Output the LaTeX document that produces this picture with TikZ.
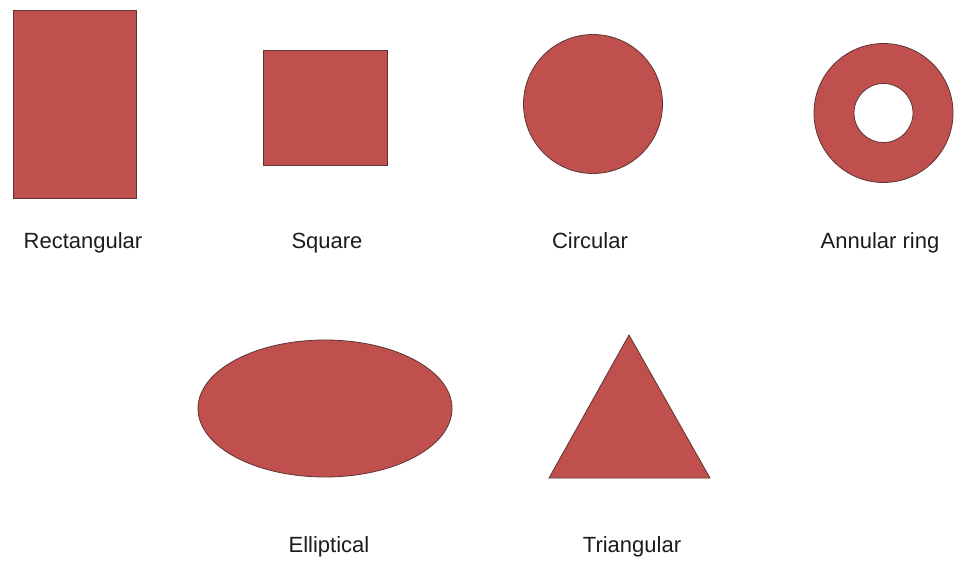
\documentclass[tikz,border=0pt]{standalone}
\usepackage{fontspec}
\setmainfont{Liberation Sans}
\usepackage{tikz}
\usepackage{xcolor}
\usetikzlibrary{positioning,shapes.geometric}
\definecolor{patchred}{RGB}{192,80,77}
\definecolor{patchedge}{RGB}{95,52,52}
\definecolor{labelgray}{RGB}{28,28,28}

\begin{document}
\begin{tikzpicture}[
      x=1pt,y=-1pt,
      patch/.style={draw=patchedge,fill=patchred,line width=0.8pt,inner sep=0pt,outer sep=0pt},
      hole/.style={draw=patchedge,fill=white,line width=0.8pt,circle,inner sep=0pt,minimum size=59pt},
      caption/.style={anchor=base,text=labelgray,inner sep=0pt,font=\fontsize{22}{26}\selectfont}
    ]
    \path[use as bounding box,fill=white] (0,0) rectangle (955,561);
    % top row
    \node[patch,rectangle,minimum width=123pt,minimum height=188pt] (rect) at (74.5,104) {};
    \node[patch,rectangle,minimum width=124pt,minimum height=115pt] (sq) at (325,107.5) {};
    \node[patch,circle,minimum size=139pt] (circ) at (593,104) {};
    \node[patch,circle,minimum size=139pt] (ring) at (883.5,113) {};
    \node[hole] (ringhole) at (ring.center) {};
    % bottom row
    \node[patch,ellipse,minimum width=254pt,minimum height=137pt] (ell) at (325,408.5) {};
    \coordinate (tritop) at (629,335);
    \coordinate (trileft) at (549,478);
    \coordinate (triright) at (710,478);
    \draw[patch] (trileft) -- (tritop) -- (triright) -- cycle;
    % captions
    \node[caption] (rectlbl) at (83,248) {Rectangular};
    \node[caption] (sqlbl) at (327,248) {Square};
    \node[caption] (circlbl) at (590,248) {Circular};
    \node[caption] (ringlbl) at (880,248) {Annular ring};
    \node[caption] (elllbl) at (329,552) {Elliptical};
    \node[caption] (trilbl) at (632,552) {Triangular};
  \end{tikzpicture}
\end{document}
